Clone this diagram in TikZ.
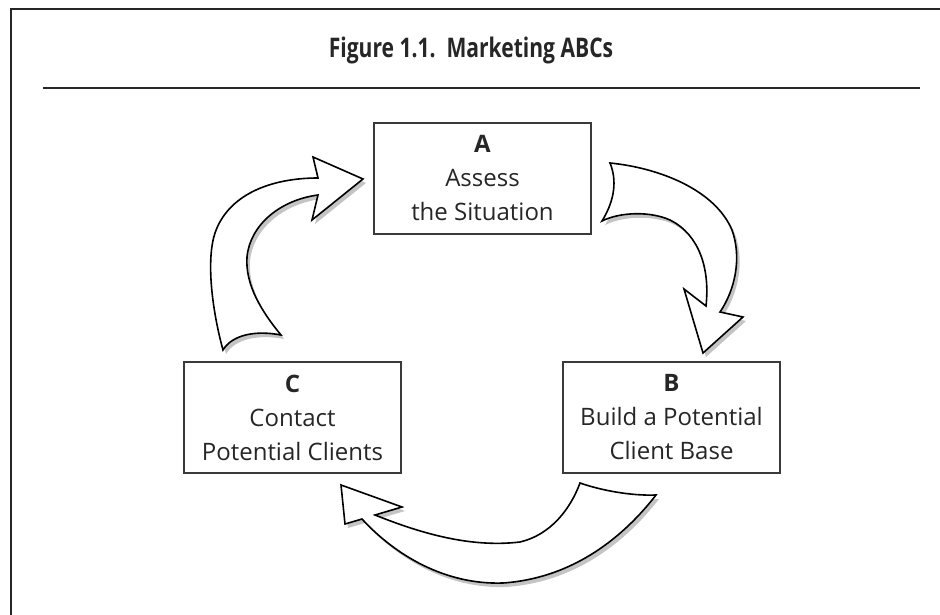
\documentclass[tikz,border=0pt]{standalone}
\usepackage{fontspec}
\setmainfont{Open Sans}
\usepackage{graphicx}
\definecolor{txt}{HTML}{262626}
\definecolor{boxline}{HTML}{3A3A3A}
\definecolor{shade}{HTML}{C4C4C4}
\newcommand\arrowLeft{(223,350) .. controls (212,310) and (206,260) .. (215,233)
  .. controls (228,195) and (270,178) .. (318,178)
  -- (313,157) -- (363,179) -- (312,220) -- (318,195)
  .. controls (280,200) and (250,225) .. (247,257)
  .. controls (245,285) and (262,312) .. (281,335)
  .. controls (255,330) and (232,335) .. (223,350) -- cycle}
\newcommand\arrowRight{(610,163) .. controls (660,168) and (715,190) .. (732,230)
  .. controls (742,258) and (735,290) .. (720,312)
  -- (743,317) -- (703,353) -- (684,289) -- (706,306)
  .. controls (710,270) and (700,235) .. (670,220)
  .. controls (650,211) and (620,212) .. (602,221)
  .. controls (615,200) and (617,180) .. (610,163) -- cycle}
\newcommand\arrowBottom{(580,483) .. controls (600,490) and (630,496) .. (656,495)
  .. controls (625,535) and (575,578) .. (503,583)
  .. controls (445,585) and (395,555) .. (362,519)
  -- (345,524) -- (341,485) -- (402,507) -- (375,515)
  .. controls (420,533) and (470,548) .. (520,542)
  .. controls (550,535) and (570,510) .. (580,483) -- cycle}
\tikzset{
  boxnode/.style={draw=boxline, line width=1.3pt, minimum width=217pt, minimum height=111pt,
    align=center, text=txt, font=\fontsize{24}{34}\selectfont, inner sep=0pt},
  shadowfill/.style={fill=shade},
  fatarrow/.style={fill=white, draw=black, line width=1.6pt, line join=miter},
}
\begin{document}
\begin{tikzpicture}[x=1pt,y=-1pt]
\useasboundingbox (0,0) rectangle (940,615);
\fill[white] (0,0) rectangle (940,615);
% frame
\draw[line width=2pt, color=black!85] (11,615) -- (11,9) -- (940,9);
% title
\node[text=txt, font=\fontsize{27}{30}\selectfont\bfseries] (title) at (471,50) {\scalebox{0.78}[1]{Figure 1.1.\ \ Marketing ABCs}};
\draw[line width=1.3pt, color=black!85] (43,88) -- (920,88);
% boxes
\node[boxnode] (A) at (482.5,178.5) {\textbf{A}\\Assess\\the Situation};
\node[boxnode] (C) at (292.5,417.5) {\textbf{C}\\Contact\\Potential Clients};
\node[boxnode] (B) at (671.5,417.5) {\textbf{B}\\Build a Potential\\Client Base};
% arrows with shadows
\begin{scope}[shift={(3,4)}]
\fill[shadowfill] \arrowLeft;
\fill[shadowfill] \arrowRight;
\fill[shadowfill] \arrowBottom;
\end{scope}
\draw[fatarrow] \arrowLeft;
\draw[fatarrow] \arrowRight;
\draw[fatarrow] \arrowBottom;
\end{tikzpicture}
\end{document}
